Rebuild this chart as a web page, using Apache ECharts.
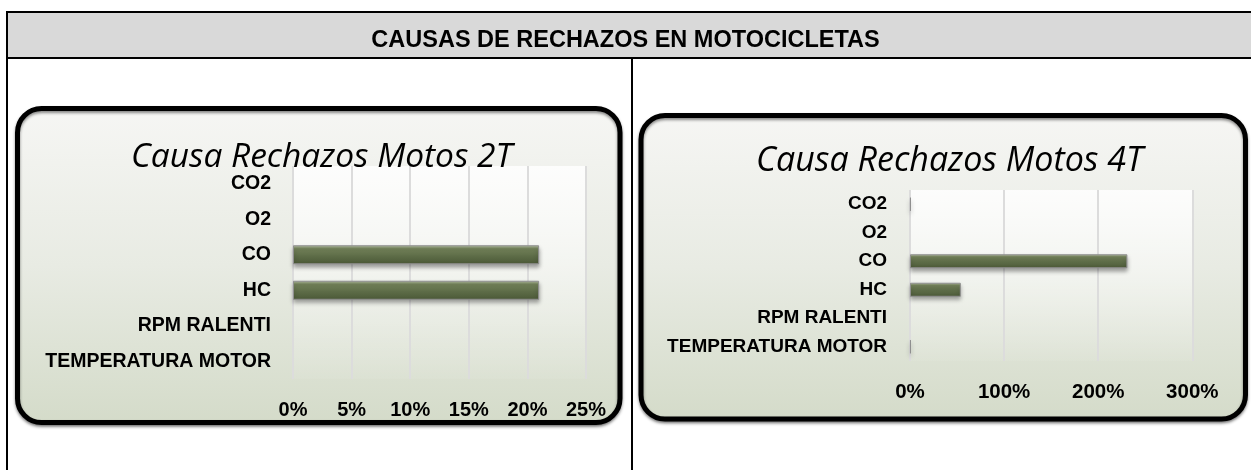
<!DOCTYPE html>
<html>
<head>
<meta charset="utf-8">
<script src="https://cdn.jsdelivr.net/npm/echarts@6/dist/echarts.min.js"></script>
<style>
html,body{margin:0;padding:0;background:#fff;}
#c{width:1251px;height:470px;}
</style>
</head>
<body>
<div id="c"></div>
<script>
const pageTitle = 'CAUSAS DE RECHAZOS EN MOTOCICLETAS';
const title2T = 'Causa Rechazos Motos 2T';
const title4T = 'Causa Rechazos Motos 4T';
const categories = ['CO2', 'O2', 'CO', 'HC', 'RPM RALENTI', 'TEMPERATURA MOTOR'];
const values2T = [0, 0, 21, 21, 0, 0];
const values4T = [1, 0, 231, 54, 0, 1];
const axis2T = { min: 0, max: 25, interval: 5 };
const axis4T = { min: 0, max: 300, interval: 100 };

const BOLDFONT = "'Liberation Sans','Arial',sans-serif";
const chart = echarts.init(document.getElementById('c'));
const LG = echarts.graphic.LinearGradient;

function barStyle() {
  return {
    color: new LG(0, 0, 0, 1, [
      { offset: 0, color: '#b7c1a6' },
      { offset: 0.18, color: '#76855c' },
      { offset: 0.55, color: '#5e6d48' },
      { offset: 1, color: '#4b5937' }
    ]),
    borderColor: '#8f8f8f',
    borderWidth: 1,
    shadowColor: 'rgba(0,0,0,0.35)',
    shadowBlur: 4,
    shadowOffsetY: 3
  };
}
function barData(vals) {
  return vals.map(v => v === 0 ? { value: v, itemStyle: { borderWidth: 0, shadowBlur: 0, shadowOffsetY: 0 } } : v);
}
function boxFill() {
  return new LG(0, 0, 0, 1, [
    { offset: 0, color: '#f6f6f4' },
    { offset: 0.5, color: '#e8ebe3' },
    { offset: 1, color: '#d4dbc9' }
  ]);
}
function plotFill() {
  return new LG(0, 0, 0, 1, [
    { offset: 0, color: 'rgba(255,255,255,0.85)' },
    { offset: 1, color: 'rgba(255,255,255,0.05)' }
  ]);
}
const catLabel = { fontFamily: BOLDFONT, fontWeight: 'bold', color: '#000' };
const titleFont = "'Open Sans',sans-serif";

const option = {
  animation: false,
  title: [
    { text: pageTitle, left: 'center', top: 24,
      textStyle: { fontFamily: BOLDFONT, fontWeight: 'bold', fontSize: 23.5, color: '#000' } },
    { text: title2T, left: 126, top: 135,
      textStyle: { fontFamily: titleFont, fontStyle: 'italic', fontWeight: 'normal', fontSize: 33.5, color: '#000' } },
    { text: title4T, left: 751, top: 139,
      textStyle: { fontFamily: titleFont, fontStyle: 'italic', fontWeight: 'normal', fontSize: 34, color: '#000' } }
  ],
  graphic: [
    { type: 'rect', z: -10, shape: { x: 7, y: 12, width: 1260, height: 46 },
      style: { fill: '#d9d9d9', stroke: '#000', lineWidth: 2 } },
    { type: 'line', z: -10, shape: { x1: 7, y1: 12, x2: 7, y2: 480 }, style: { stroke: '#000', lineWidth: 2 } },
    { type: 'line', z: -10, shape: { x1: 632, y1: 58, x2: 632, y2: 480 }, style: { stroke: '#000', lineWidth: 2 } },
    { type: 'rect', z: -9, shape: { x: 17.5, y: 108.5, width: 602.5, height: 314, r: 24 },
      style: { fill: boxFill(), stroke: '#000', lineWidth: 5, shadowColor: 'rgba(0,0,0,0.45)', shadowBlur: 3, shadowOffsetY: 2 } },
    { type: 'rect', z: -9, shape: { x: 641, y: 115.5, width: 604.5, height: 303.5, r: 24 },
      style: { fill: boxFill(), stroke: '#000', lineWidth: 5, shadowColor: 'rgba(0,0,0,0.45)', shadowBlur: 3, shadowOffsetY: 2 } }
  ],
  grid: [
    { left: 293, right: 665, top: 166, bottom: 91, show: true, backgroundColor: plotFill(), borderWidth: 0 },
    { left: 910, right: 58.7, top: 190, bottom: 109, show: true, backgroundColor: plotFill(), borderWidth: 0 }
  ],
  xAxis: [
    { type: 'value', gridIndex: 0, min: axis2T.min, max: axis2T.max, interval: axis2T.interval,
      axisLine: { show: false }, axisTick: { show: false },
      splitLine: { show: true, lineStyle: { color: '#dcdcdc', width: 2 } },
      axisLabel: { formatter: '{value}%', margin: 21, fontSize: 20, ...catLabel } },
    { type: 'value', gridIndex: 1, min: axis4T.min, max: axis4T.max, interval: axis4T.interval,
      axisLine: { show: false }, axisTick: { show: false },
      splitLine: { show: true, lineStyle: { color: '#dcdcdc', width: 2 } },
      axisLabel: { formatter: '{value}%', margin: 21, fontSize: 20.5, ...catLabel } }
  ],
  yAxis: [
    { type: 'category', gridIndex: 0, data: categories, inverse: true,
      axisLine: { show: false }, axisTick: { show: false }, splitLine: { show: false },
      axisLabel: { interval: 0, margin: 22, fontSize: 19.5, ...catLabel } },
    { type: 'category', gridIndex: 1, data: categories, inverse: true,
      axisLine: { show: false }, axisTick: { show: false }, splitLine: { show: false },
      axisLabel: { interval: 0, margin: 23, fontSize: 19, ...catLabel } }
  ],
  series: [
    { type: 'bar', xAxisIndex: 0, yAxisIndex: 0, data: barData(values2T), barWidth: 19, itemStyle: barStyle() },
    { type: 'bar', xAxisIndex: 1, yAxisIndex: 1, data: barData(values4T), barWidth: 14, itemStyle: barStyle() }
  ]
};
chart.setOption(option);
</script>
</body>
</html>
